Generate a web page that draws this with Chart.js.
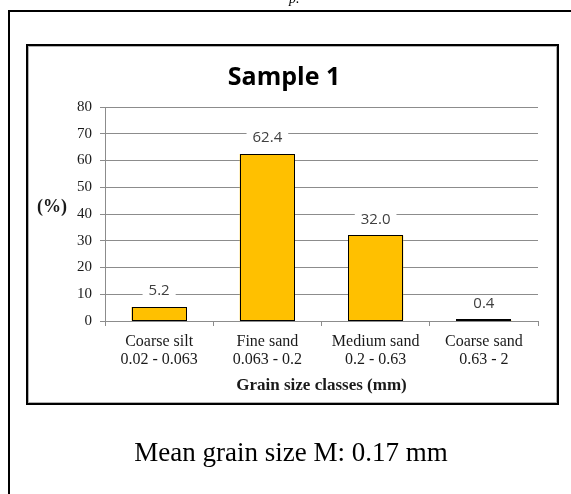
<!DOCTYPE html>
<html>
<head>
<meta charset="utf-8">
<script src="https://cdn.jsdelivr.net/npm/chart.js@4/dist/chart.umd.min.js"></script>
<style>
  html, body { margin: 0; padding: 0; background: #fff; }
  #wrap { width: 571px; height: 494px; position: relative; }
</style>
</head>
<body>
<div id="wrap"><canvas id="c" width="571" height="494"></canvas></div>
<script>
// Grain size classes and their share of the sample
const categories = [
  ['Coarse silt', '0.02 - 0.063'],
  ['Fine sand', '0.063 - 0.2'],
  ['Medium sand', '0.2 - 0.63'],
  ['Coarse sand', '0.63 - 2']
];
const percentages = [5.2, 62.4, 32.0, 0.4];
const yMin = 0;
const yMax = 80;
const yStep = 10;
const chartTitle = 'Sample 1';
const xAxisTitle = 'Grain size classes (mm)';
const yAxisTitle = '(%)';
const meanText = 'Mean grain size M: 0.17 mm';
const captionFragment = 'p.';

const GRID = '#8c8c8c';
const SERIF = '"Liberation Serif", "Times New Roman", serif';
const SANS = '"Open Sans", "Noto Sans", sans-serif';

// Page frames, the horizontal y-axis caption and the summary line below the chart
const framePlugin = {
  id: 'frames',
  beforeDraw(chart) {
    const ctx = chart.ctx;
    ctx.save();
    ctx.fillStyle = '#fff';
    ctx.fillRect(0, 0, chart.width, chart.height);

    // cut-off caption above the page box
    ctx.fillStyle = '#000';
    ctx.font = 'italic 14px ' + SERIF;
    ctx.textAlign = 'left';
    ctx.textBaseline = 'alphabetic';
    ctx.fillText(captionFragment, 289, 3);

    // outer page box (continues past the right and bottom edges)
    ctx.strokeStyle = '#000';
    ctx.lineWidth = 2;
    ctx.beginPath();
    ctx.moveTo(9, chart.height + 2);
    ctx.lineTo(9, 11);
    ctx.lineTo(chart.width + 2, 11);
    ctx.stroke();

    // chart box
    ctx.strokeRect(27, 45, 531, 359);
    ctx.strokeStyle = '#b0b0b0';
    ctx.lineWidth = 1;
    ctx.strokeRect(28.5, 46.5, 528, 356);
    ctx.restore();
  },
  afterDraw(chart) {
    const ctx = chart.ctx;
    const area = chart.chartArea;
    ctx.save();
    ctx.fillStyle = '#1a1a1a';
    ctx.font = 'bold 18px ' + SERIF;
    ctx.textAlign = 'center';
    ctx.textBaseline = 'middle';
    ctx.fillText(yAxisTitle, 52, (area.top + area.bottom) / 2 - 7);

    ctx.fillStyle = '#000';
    ctx.font = '27px ' + SERIF;
    ctx.textBaseline = 'alphabetic';
    ctx.fillText(meanText, 291, 461);
    ctx.restore();
  }
};

// Crisp black outline round each bar, so even the thinnest bar shows as a line,
// then the value above each bar on a white patch that interrupts the grid line
const valueLabels = {
  id: 'valueLabels',
  afterDatasetsDraw(chart) {
    const ctx = chart.ctx;
    const meta = chart.getDatasetMeta(0);
    const data = chart.data.datasets[0].data;
    ctx.save();
    ctx.strokeStyle = '#000';
    ctx.lineWidth = 1;
    meta.data.forEach((bar) => {
      const l = Math.round(bar.x - bar.width / 2) + 0.5;
      const r = Math.round(bar.x + bar.width / 2) - 0.5;
      const t = Math.round(bar.y) + 0.5;
      const b = Math.round(bar.base) - 0.5;
      ctx.strokeRect(l, Math.min(t, b - 1), r - l, Math.max(b - t, 1));
    });

    ctx.font = '15px ' + SANS;
    ctx.textAlign = 'center';
    ctx.textBaseline = 'middle';
    meta.data.forEach((bar, i) => {
      const txt = data[i].toFixed(1);
      const w = ctx.measureText(txt).width + 12;
      const y = bar.y - 16;
      ctx.fillStyle = '#fff';
      ctx.fillRect(bar.x - w / 2, y - 8, w, 16);
      ctx.fillStyle = '#404040';
      ctx.fillText(txt, bar.x, y);
    });
    ctx.restore();
  }
};

new Chart(document.getElementById('c'), {
  type: 'bar',
  data: {
    labels: categories,
    datasets: [{
      data: percentages,
      backgroundColor: '#FFC000',
      borderWidth: 0,
      barPercentage: 0.51,
      categoryPercentage: 1
    }]
  },
  options: {
    responsive: false,
    animation: false,
    devicePixelRatio: 1,
    layout: { padding: { left: 30, right: 33, top: 63, bottom: 90 } },
    plugins: {
      legend: { display: false },
      tooltip: { enabled: false },
      title: {
        display: true,
        text: chartTitle,
        color: '#000',
        font: { family: SANS, size: 25, weight: 'bold', lineHeight: 1.2 },
        padding: { top: 0, bottom: 14 }
      }
    },
    scales: {
      x: {
        grid: { drawOnChartArea: false, drawTicks: true, tickLength: 5, color: GRID, offset: true },
        border: { color: GRID, width: 1 },
        ticks: {
          color: '#1a1a1a',
          padding: 7,
          maxRotation: 0,
          autoSkip: false,
          font: { family: SERIF, size: 16, lineHeight: 1.125 }
        },
        title: {
          display: true,
          text: xAxisTitle,
          color: '#1a1a1a',
          font: { family: SERIF, size: 17, weight: 'bold', lineHeight: 1.2 },
          padding: { top: 0, bottom: 8 }
        },
        afterFit(scale) { scale.height = 83; }
      },
      y: {
        min: yMin,
        max: yMax,
        grid: { color: GRID, tickLength: 5, drawTicks: true },
        border: { color: GRID, width: 1 },
        ticks: {
          stepSize: yStep,
          color: '#1a1a1a',
          padding: 8,
          font: { family: SERIF, size: 15 }
        },
        afterFit(scale) { scale.width = 75; }
      }
    }
  },
  plugins: [framePlugin, valueLabels]
});
</script>
</body>
</html>
